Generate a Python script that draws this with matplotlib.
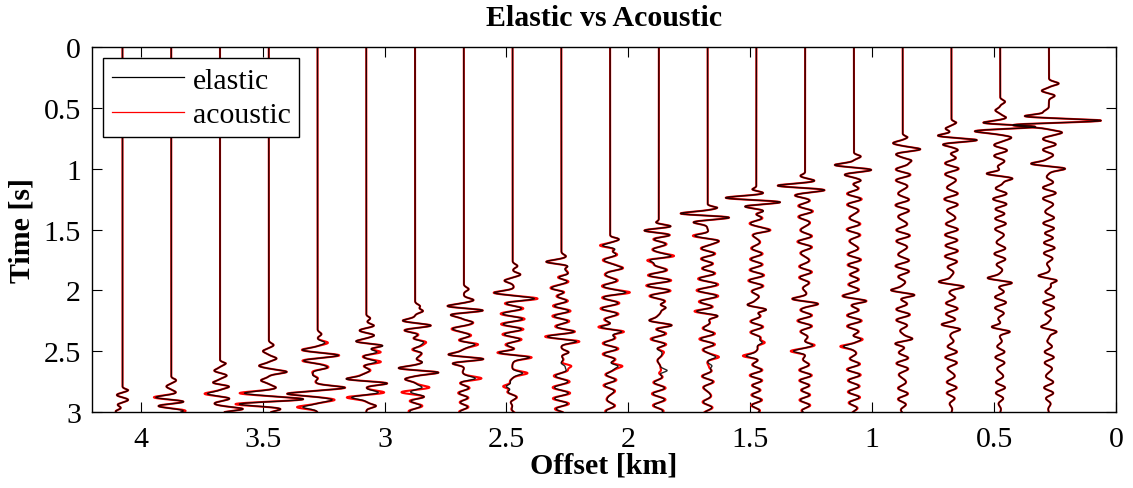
import numpy as np
import matplotlib
matplotlib.use("Agg")
import matplotlib.pyplot as plt
from matplotlib.lines import Line2D

# ---------------- data ----------------
offsets = [0.275, 0.475, 0.675, 0.875, 1.075, 1.275, 1.475, 1.675, 1.875, 2.075,
           2.275, 2.475, 2.675, 2.875, 3.075, 3.275, 3.475, 3.675, 3.875, 4.075]
onsets = [0.24, 0.40, 0.59, 0.71, 0.86, 1.02, 1.14, 1.29, 1.41, 1.54,
          1.63, 1.74, 1.92, 2.07, 2.19, 2.30, 2.37, 2.57, 2.70, 2.79]

# discrete swings: time [s], amplitude (in units of trace spacing; + = toward smaller offset)
event_times = [
    [0.30, 0.36, 0.40, 0.53, 0.57, 0.605, 0.64, 0.70, 0.96, 1.00, 1.88, 1.92, 2.30, 2.34],
    [0.45, 0.52, 0.58, 0.625, 0.655, 0.69, 0.74, 1.04, 1.08, 1.90, 1.94, 2.30, 2.34],
    [0.62, 0.67, 0.73, 0.765, 0.80, 0.85, 1.93, 1.97, 2.28, 2.32],
    [0.74, 0.79, 0.84, 0.88, 0.93, 2.00, 2.04, 2.40, 2.44],
    [0.90, 0.97, 1.01, 1.05, 1.10, 2.05, 2.09, 2.40, 2.46],
    [1.06, 1.10, 1.14, 1.175, 1.22, 2.07, 2.11, 2.45, 2.50],
    [1.17, 1.20, 1.24, 1.275, 1.31, 1.35, 1.51, 2.12, 2.16, 2.43, 2.54],
    [1.32, 1.37, 1.40, 1.44, 1.55, 1.59, 2.17, 2.21, 2.55, 2.62],
    [1.445, 1.475, 1.51, 1.55, 1.72, 1.75, 2.14, 2.25, 2.29, 2.50, 2.66],
    [1.58, 1.63, 1.66, 1.82, 2.02, 2.30, 2.34, 2.62],
    [1.72, 1.765, 1.80, 1.87, 1.99, 2.34, 2.38, 2.42, 2.51, 2.62],
    [1.80, 1.87, 1.92, 2.02, 2.07, 2.51, 2.55, 2.68, 2.79],
    [1.99, 2.08, 2.13, 2.165, 2.20, 2.26, 2.31, 2.44, 2.53, 2.565, 2.60, 2.725],
    [2.13, 2.17, 2.25, 2.29, 2.33, 2.42, 2.51, 2.59, 2.64, 2.675, 2.73, 2.80, 2.84, 2.88],
    [2.23, 2.29, 2.33, 2.37, 2.42, 2.455, 2.51, 2.59, 2.73, 2.765, 2.84, 2.88, 2.95],
    [2.36, 2.43, 2.49, 2.535, 2.58, 2.64, 2.70, 2.80, 2.85, 2.90, 2.96],
    [2.45, 2.50, 2.56, 2.62, 2.67, 2.74, 2.80, 2.845, 2.895, 2.935, 2.975],
    [2.60, 2.66, 2.70, 2.76, 2.79, 2.85, 2.89, 2.93, 2.975],
    [2.74, 2.79, 2.84, 2.88, 2.915, 2.95, 2.99],
    [2.82, 2.86, 2.90, 2.94, 2.995],
]
elastic_amps = [
    [0.20, -0.15, 0.12, -0.10, -0.53, 1.12, -0.78, 0.20, -0.37, 0.33, -0.22, 0.18, -0.16, 0.16],
    [0.10, -0.10, 0.12, -0.40, 0.78, -0.55, 0.20, -0.30, 0.28, -0.26, 0.24, -0.18, 0.20],
    [0.10, -0.12, -0.30, 0.55, -0.20, 0.15, -0.26, 0.24, -0.16, 0.16],
    [0.10, -0.20, 0.37, -0.16, 0.20, -0.24, 0.24, 0.20, -0.15],
    [0.14, -0.40, 0.37, -0.20, 0.16, -0.18, 0.22, 0.16, -0.20],
    [-0.10, 0.20, -0.58, 0.40, -0.16, -0.24, 0.22, 0.16, -0.24],
    [-0.10, 0.16, -0.66, 0.55, -0.30, 0.20, 0.20, -0.20, 0.24, 0.16, -0.20],
    [0.20, -0.60, 0.50, -0.30, -0.24, 0.20, -0.20, 0.22, 0.14, 0.12],
    [-0.10, 0.30, -0.33, 0.20, 0.20, -0.20, 0.20, -0.22, 0.28, 0.10, 0.20],
    [0.20, -0.20, 0.20, 0.20, 0.20, -0.24, 0.30, 0.20],
    [0.10, -0.33, 0.18, 0.16, -0.16, 0.20, -0.26, 0.30, 0.16, 0.12],
    [0.10, 0.16, -0.16, -0.33, 0.37, -0.30, 0.37, 0.20, -0.20],
    [0.10, 0.20, -0.35, 0.42, -0.30, 0.16, -0.16, 0.20, -0.33, 0.42, -0.24, 0.20],
    [0.10, 0.16, -0.26, 0.33, -0.20, 0.20, 0.16, 0.18, -0.37, 0.50, -0.20, 0.16, -0.10, 0.16],
    [0.08, 0.16, -0.15, 0.18, -0.26, 0.40, 0.16, 0.16, -0.46, 0.45, 0.24, -0.30, 0.20],
    [0.08, 0.14, -0.28, 0.37, -0.20, 0.16, -0.14, 0.55, -0.62, 0.30, -0.30],
    [0.10, -0.12, 0.16, -0.20, 0.37, -0.16, 0.15, -0.50, 0.72, -0.62, 0.25],
    [0.12, -0.12, 0.14, -0.16, 0.20, -0.26, 0.20, -0.12, 0.47],
    [0.10, -0.10, 0.10, -0.33, 0.28, -0.28, 0.25],
    [0.12, -0.12, 0.12, -0.10, -0.14],
]
acoustic_amps = [
    [0.20, -0.15, 0.12, -0.10, -0.53, 1.12, -0.78, 0.20, -0.37, 0.33, -0.22, 0.18, -0.16, 0.16],
    [0.10, -0.10, 0.12, -0.40, 0.78, -0.55, 0.20, -0.30, 0.28, -0.26, 0.24, -0.18, 0.20],
    [0.10, -0.12, -0.30, 0.55, -0.20, 0.15, -0.26, 0.24, -0.16, 0.16],
    [0.10, -0.20, 0.37, -0.16, 0.20, -0.24, 0.24, 0.20, -0.15],
    [0.14, -0.40, 0.37, -0.20, 0.16, -0.18, 0.22, 0.20, -0.26],
    [-0.10, 0.20, -0.58, 0.40, -0.16, -0.24, 0.22, 0.20, -0.30],
    [-0.10, 0.16, -0.66, 0.55, -0.30, 0.20, 0.20, -0.20, 0.24, 0.22, -0.27],
    [0.20, -0.60, 0.50, -0.30, -0.28, 0.20, -0.24, 0.22, 0.20, 0.06],
    [-0.10, 0.30, -0.33, 0.20, 0.26, -0.26, 0.20, -0.22, 0.28, 0.16, 0.08],
    [0.20, -0.26, 0.20, 0.20, 0.26, -0.30, 0.36, 0.30],
    [0.10, -0.33, 0.18, 0.16, -0.16, 0.20, -0.30, 0.36, 0.16, 0.27],
    [0.10, 0.16, -0.16, -0.33, 0.42, -0.34, 0.42, 0.30, -0.28],
    [0.10, 0.20, -0.35, 0.42, -0.30, 0.16, -0.16, 0.26, -0.33, 0.42, -0.24, 0.32],
    [0.10, 0.16, -0.26, 0.33, -0.20, 0.26, 0.16, 0.18, -0.37, 0.50, -0.20, 0.32, -0.30, 0.16],
    [0.08, 0.16, -0.15, 0.18, -0.26, 0.40, 0.22, 0.24, -0.46, 0.45, 0.36, -0.40, 0.20],
    [0.08, 0.20, -0.28, 0.37, -0.20, 0.16, -0.14, 0.55, -0.62, 0.35, -0.42],
    [0.10, -0.12, 0.16, -0.20, 0.37, -0.16, 0.15, -0.60, 0.72, -0.70, 0.25],
    [0.12, -0.12, 0.14, -0.16, 0.20, -0.32, 0.20, -0.12, 0.47],
    [0.10, -0.10, 0.10, -0.37, 0.28, -0.28, 0.30],
    [0.12, -0.12, 0.12, -0.10, -0.14],
]
# background ringing packets (center time, amplitude)
coda_times = [
    [0.80, 1.20, 1.45, 1.65, 2.10, 2.55, 2.80],
    [0.85, 1.25, 1.45, 1.70, 2.10, 2.55, 2.80],
    [1.00, 1.25, 1.50, 1.72, 2.15, 2.55, 2.80],
    [1.05, 1.30, 1.55, 1.80, 2.20, 2.60, 2.85],
    [1.25, 1.50, 1.75, 1.95, 2.25, 2.65, 2.88],
    [1.35, 1.60, 1.85, 2.25, 2.70, 2.90],
    [1.45, 1.70, 1.92, 2.30, 2.70, 2.90],
    [1.70, 1.90, 2.05, 2.40, 2.75, 2.92],
    [1.62, 1.88, 2.00, 2.40, 2.80, 2.95],
    [1.75, 1.92, 2.15, 2.48, 2.78, 2.95],
    [1.93, 2.13, 2.25, 2.70, 2.85, 2.97],
    [2.15, 2.28, 2.40, 2.88, 2.97],
    [2.37, 2.85, 2.95],
    [2.45, 2.95],
    [2.55, 2.65],
    [2.62],
    [], [], [], [],
]
elastic_coda_amps = [
    [0.14, 0.14, -0.12, 0.12, -0.12, 0.10, -0.10],
    [0.14, -0.15, 0.12, -0.12, 0.12, -0.10, 0.10],
    [0.14, -0.14, 0.12, -0.12, 0.12, -0.12, 0.10],
    [0.15, -0.14, 0.14, -0.14, 0.14, -0.12, 0.10],
    [0.14, -0.13, 0.13, -0.10, 0.14, -0.12, 0.10],
    [0.14, -0.14, 0.12, -0.14, 0.12, -0.10],
    [-0.12, 0.10, -0.14, 0.12, -0.12, 0.10],
    [0.14, -0.14, 0.16, -0.14, 0.12, -0.10],
    [0.14, -0.16, 0.18, -0.14, 0.10, -0.08],
    [-0.14, 0.14, -0.16, 0.14, -0.12, 0.10],
    [0.12, -0.12, 0.10, -0.10, 0.10, -0.08],
    [0.14, -0.12, 0.12, 0.14, -0.10],
    [0.12, -0.14, 0.12],
    [0.10, 0.12],
    [-0.10, 0.10],
    [0.10],
    [], [], [], [],
]
acoustic_coda_amps = [
    [0.14, 0.14, -0.12, 0.12, -0.12, 0.10, -0.10],
    [0.14, -0.15, 0.12, -0.12, 0.12, -0.10, 0.10],
    [0.15, -0.15, 0.13, -0.13, 0.13, -0.13, 0.11],
    [0.16, -0.15, 0.15, -0.15, 0.15, -0.13, 0.11],
    [0.16, -0.15, 0.15, -0.12, 0.16, -0.14, 0.12],
    [0.16, -0.16, 0.14, -0.16, 0.14, -0.12],
    [-0.14, 0.12, -0.16, 0.14, -0.14, 0.12],
    [0.16, -0.16, 0.19, -0.17, 0.14, -0.12],
    [0.16, -0.18, 0.20, -0.17, 0.12, -0.10],
    [-0.17, 0.17, -0.19, 0.17, -0.15, 0.12],
    [0.15, -0.15, 0.13, -0.13, 0.13, -0.10],
    [0.17, -0.15, 0.15, 0.17, -0.13],
    [0.15, -0.17, 0.15],
    [0.13, 0.15],
    [-0.13, 0.13],
    [0.13],
    [], [], [], [],
]

x_ticks = [4, 3.5, 3, 2.5, 2, 1.5, 1, 0.5, 0]
x_tick_labels = ["4", "3.5", "3", "2.5", "2", "1.5", "1", "0.5", "0"]
y_ticks = [0, 0.5, 1, 1.5, 2, 2.5, 3]
y_tick_labels = ["0", "0.5", "1", "1.5", "2", "2.5", "3"]

# ---------------- rendering helpers ----------------
t = np.linspace(0.0, 3.0, 2400)
TRACE_GAIN = 0.2     # km per unit amplitude (trace spacing)
SWING_W = 0.02
CODA_W = 0.13
CODA_F = 11.0
FS = 21.5


def trace(i, amps, coda):
    s = np.zeros_like(t)
    for tt, a in zip(event_times[i], amps[i]):
        s += a * np.exp(-((t - tt) / SWING_W) ** 2)
    for tt, a in zip(coda_times[i], coda[i]):
        s += a * np.exp(-((t - tt) / CODA_W) ** 2) * np.cos(2 * np.pi * CODA_F * (t - tt))
    ramp = np.clip((t - onsets[i]) / 0.03, 0, 1)
    return s * ramp


plt.rcParams["font.family"] = ["Liberation Serif", "DejaVu Serif"]
plt.rcParams["mathtext.fontset"] = "stix"

fig = plt.figure(figsize=(11.33, 4.89), dpi=100)
ax = fig.add_axes([0.0812, 0.1554, 0.9038, 0.7464])

for i, off in enumerate(offsets):
    ax.plot(off - TRACE_GAIN * trace(i, acoustic_amps, acoustic_coda_amps), t,
            color="red", lw=1.5, zorder=2)
for i, off in enumerate(offsets):
    ax.plot(off - TRACE_GAIN * trace(i, elastic_amps, elastic_coda_amps), t,
            color="black", lw=1.0, alpha=0.85, zorder=3)

ax.set_xlim(4.2, 0)
ax.set_ylim(3, 0)
ax.set_xticks(x_ticks)
ax.set_xticklabels(x_tick_labels)
ax.set_yticks(y_ticks)
ax.set_yticklabels(y_tick_labels)
ax.tick_params(axis="x", direction="in", length=7, width=0.8, top=True,
               labelsize=FS, pad=10)
ax.tick_params(axis="y", direction="in", length=7, width=0.8, right=True,
               labelsize=FS, pad=8)
for sp in ax.spines.values():
    sp.set_linewidth(1.0)

ax.set_xlabel("Offset [km]", fontsize=FS, fontweight="bold", labelpad=0)
ax.set_ylabel("Time [s]", fontsize=FS, fontweight="bold", labelpad=6)
ax.set_title("Elastic vs Acoustic", fontsize=FS, fontweight="bold", pad=16)

handles = [Line2D([], [], color="black", lw=0.9), Line2D([], [], color="red", lw=0.9)]
leg = ax.legend(handles, ["elastic", "acoustic"], loc="upper left",
                bbox_to_anchor=(0.0107, 0.97), borderaxespad=0, fontsize=FS,
                handlelength=2.4, handletextpad=0.3, labelspacing=0.25,
                borderpad=0.3, fancybox=False, framealpha=1, edgecolor="black")
leg.get_frame().set_linewidth(1.0)

fig.savefig("out.png", dpi=100)
